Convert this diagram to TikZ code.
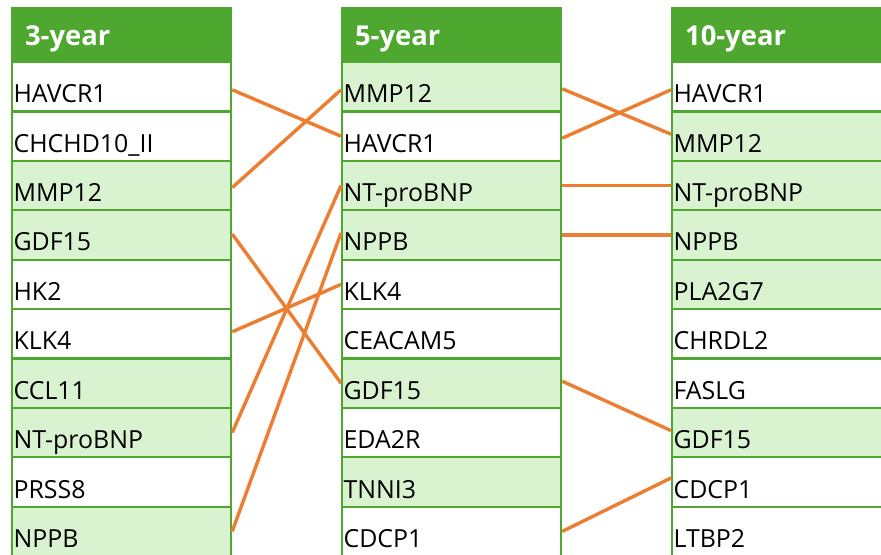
\documentclass[tikz,border=0pt]{standalone}
\usepackage{fontspec}
\setmainfont{Open Sans}
\definecolor{hdrgreen}{HTML}{4EA72E}
\definecolor{lightgreen}{HTML}{D9F2D0}
\definecolor{linkorange}{HTML}{ED7D31}
\begin{document}
\begin{tikzpicture}[x=1bp,y=-1bp,
  cell/.style={rectangle, draw=hdrgreen, line width=2.2bp, anchor=north west,
    minimum width=219bp, minimum height=49.4bp, inner xsep=1.5bp, inner ysep=0pt,
    text width=216bp, align=left, text height=34bp, text depth=2bp,
    font=\fontsize{25}{28}\selectfont, text=black},
  widecell/.style={cell, minimum width=240bp, text width=237bp},
  hdr/.style={rectangle, draw=hdrgreen, fill=hdrgreen, line width=2.2bp, anchor=north west,
    minimum width=219bp, minimum height=54bp, inner xsep=13bp, inner ysep=0pt,
    text width=193bp, align=left, text height=22bp, text depth=2bp,
    font=\fontsize{27.5}{30}\selectfont\bfseries, text=white},
  widehdr/.style={hdr, minimum width=240bp, text width=214bp},
  link/.style={draw=linkorange, line width=3.4bp}]
\useasboundingbox (0,0) rectangle (881,555);
\clip (0,0) rectangle (881,555);
\fill[white] (0,0) rectangle (881,555);
% headers
\node[hdr] (ha) at (11,7) {3-year};
\node[hdr] (hb) at (341,7) {5-year};
\node[widehdr] (hc) at (671,7) {10-year};
% 3-year column
\foreach \i/\t/\f in {1/HAVCR1/white, 2/CHCHD10\_II/white, 3/MMP12/lightgreen,
  4/GDF15/lightgreen, 5/HK2/white, 6/KLK4/white, 7/CCL11/lightgreen,
  8/NT-proBNP/lightgreen, 9/PRSS8/white, 10/NPPB/lightgreen}
  \node[cell, fill=\f] (a\i) at (11, {61+49.4*(\i-1)}) {\t};
% 5-year column
\foreach \i/\t/\f in {1/MMP12/lightgreen, 2/HAVCR1/white, 3/NT-proBNP/lightgreen,
  4/NPPB/lightgreen, 5/KLK4/white, 6/CEACAM5/white, 7/GDF15/lightgreen,
  8/EDA2R/white, 9/TNNI3/lightgreen, 10/CDCP1/white}
  \node[cell, fill=\f] (b\i) at (341, {61+49.4*(\i-1)}) {\t};
% 10-year column
\foreach \i/\t/\f in {1/HAVCR1/white, 2/MMP12/lightgreen, 3/NT-proBNP/lightgreen,
  4/NPPB/lightgreen, 5/PLA2G7/lightgreen, 6/CHRDL2/white, 7/FASLG/white,
  8/GDF15/lightgreen, 9/CDCP1/white, 10/LTBP2/white}
  \node[widecell, fill=\f] (c\i) at (671, {61+49.4*(\i-1)}) {\t};
% links 3-year -> 5-year
\draw[link] ([yshift=-3bp]a1.east) -- (b2.west);
\draw[link] ([yshift=-2bp]a3.east) -- ([yshift=-3bp]b1.west);
\draw[link] ([yshift=1bp]a4.east) -- (b7.west);
\draw[link] ([yshift=2bp]a6.east) -- (b5.west);
\draw[link] (a8.east) -- (b3.west);
\draw[link] (a10.east) -- ([yshift=2bp]b4.west);
% links 5-year -> 10-year
\draw[link] ([yshift=-2bp]b1.east) -- ([yshift=2bp]c2.west);
\draw[link] ([yshift=-2bp]b2.east) -- ([yshift=-3bp]c1.west);
\draw[link] (b3.east) -- (c3.west);
\draw[link] (b4.east) -- (c4.west);
\draw[link] ([yshift=2bp]b7.east) -- ([yshift=2bp]c8.west);
\draw[link] (b10.east) -- ([yshift=4bp]c9.west);
\end{tikzpicture}
\end{document}
